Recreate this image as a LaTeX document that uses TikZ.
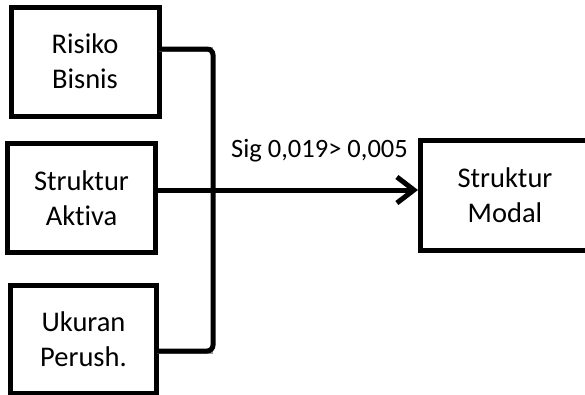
\documentclass[tikz,border=0pt]{standalone}
\usepackage{fontspec}
\setmainfont[Ligatures=NoCommon]{Carlito}
\usetikzlibrary{arrows.meta}
\tikzset{
  box/.style={draw=black, line width=5pt, rectangle, inner sep=0pt, outer sep=0pt,
    align=center, font=\fontsize{28.5}{35}\selectfont},
  link/.style={draw=black, line width=5pt, rounded corners=6pt},
  shade/.style={draw=black!40, line width=5pt, rounded corners=6pt},
  lbl/.style={font=\fontsize{26.5}{32}\selectfont, inner sep=0pt, anchor=base}
}
\begin{document}
\begin{tikzpicture}[x=1pt,y=-1pt]
\useasboundingbox (0,0) rectangle (585,394);
\clip (0,0) rectangle (585,394);
\fill[white] (0,0) rectangle (585,394);
\node[box, minimum width=148pt, minimum height=109pt] (b1) at (85,61.5) {Risiko\\Bisnis};
\node[box, minimum width=147.5pt, minimum height=109pt] (b2) at (81.5,198) {Struktur\\Aktiva};
\node[box, minimum width=146.5pt, minimum height=107.5pt] (b3) at (83.5,339.5) {Ukuran\\Perush.};
\node[box, minimum width=170pt, minimum height=110pt] (b4) at (505,195.5) {Struktur\\Modal};
\coordinate (j1) at (213,49);
\coordinate (j3) at (213,351);
\coordinate (m) at (0,190);
% shadows
\draw[shade, shift={(1,3)}] (b1.east |- j1) -- (j1);
\draw[shade, shift={(1,3)}] (j3) -- (b3.east |- j3);
\draw[shade, shift={(1,2.5)}] (b2.east |- m) -- ([xshift=-22pt]b4.west |- m);
% connectors
\draw[link] (b1.east |- j1) -- (j1) -- (j3) -- (b3.east |- j3);
\draw[link, -{Straight Barb[length=17pt,width=26pt,line width=5pt]}] (b2.east |- m) -- ([xshift=-2pt]b4.west |- m);
\node[lbl] (lab) at (319.5,157) {Sig 0,019> 0,005};
\end{tikzpicture}
\end{document}
